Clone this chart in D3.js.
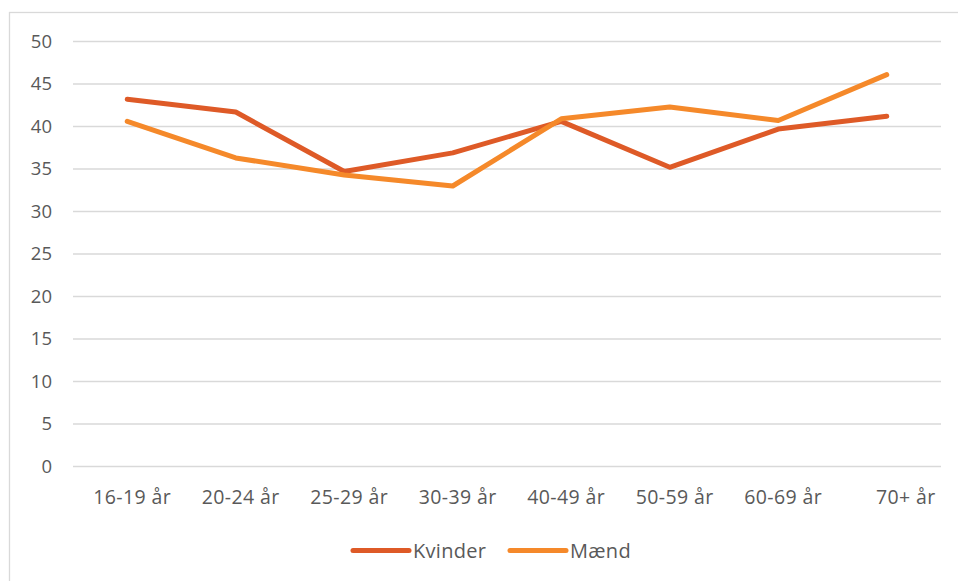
<!DOCTYPE html>
<meta charset="utf-8">
<style>
body { margin: 0; background: #fff; }
text { font-family: "Open Sans", "Noto Sans", sans-serif; fill: #595959; }
.grid line { stroke: #d9d9d9; stroke-width: 1.6px; }
.line { fill: none; stroke-width: 5px; stroke-linejoin: round; stroke-linecap: round; }
</style>
<svg width="958" height="581"></svg>
<script src="https://cdn.jsdelivr.net/npm/d3@7"></script>
<script>

// data
let categories = ["16-19 år", "20-24 år", "25-29 år", "30-39 år", "40-49 år", "50-59 år", "60-69 år", "70+ år"];
let kvinder = [43.2, 41.7, 34.7, 36.9, 40.6, 35.2, 39.7, 41.2];
let maend = [40.6, 36.3, 34.3, 33.0, 40.9, 42.3, 40.7, 46.1];
let seriesNames = ["Kvinder", "Mænd"];
let seriesColors = ["#de5a27", "#f5892a"];
let yTicks = [0, 5, 10, 15, 20, 25, 30, 35, 40, 45, 50];

let svg = d3.select("svg"),
    margin = {top: 41.5, right: 17, bottom: 114.5, left: 73},
    width = svg.attr("width") - margin.left - margin.right,
    height = svg.attr("height") - margin.top - margin.bottom,
    g = svg.append("g").attr("transform", "translate(" + margin.left + "," + margin.top + ")");

// chart frame (only top and left edges fall inside the window)
svg.append("rect")
    .attr("x", 9.5).attr("y", 12.5)
    .attr("width", 1000).attr("height", 1000)
    .attr("fill", "none")
    .attr("stroke", "#d9d9d9")
    .attr("stroke-width", 1.3);

let x = d3.scaleBand().domain(categories).range([0, width]),
    y = d3.scaleLinear().domain([0, 50]).range([height, 0]);

// gridlines
g.append("g").attr("class", "grid")
    .selectAll("line")
    .data(yTicks)
    .enter().append("line")
    .attr("x1", 0).attr("x2", width)
    .attr("y1", d => y(d)).attr("y2", d => y(d));

// y labels
g.append("g")
    .selectAll("text")
    .data(yTicks)
    .enter().append("text")
    .attr("x", -21)
    .attr("y", d => y(d))
    .attr("dy", "0.35em")
    .attr("text-anchor", "end")
    .style("font-size", "18.5px")
    .text(d => d);

// x labels
g.append("g")
    .selectAll("text")
    .data(categories)
    .enter().append("text")
    .attr("x", d => x(d) + x.bandwidth() / 2)
    .attr("dx", (d, i) => i === categories.length - 1 ? 19 : 5)
    .attr("y", height + 37)
    .attr("text-anchor", "middle")
    .style("font-size", "19.5px")
    .style("letter-spacing", "0.4px")
    .text(d => d);

let series = [kvinder, maend].map((vals, i) => ({
    name: seriesNames[i],
    color: seriesColors[i],
    values: vals.map((v, j) => ({cat: categories[j], value: v}))
}));

let line = d3.line()
    .x(d => x(d.cat) + x.bandwidth() / 2)
    .y(d => y(d.value));

// Mænd drawn after Kvinder (on top) like the reference
g.selectAll(".line")
    .data(series)
    .enter().append("path")
    .attr("class", "line")
    .attr("d", d => line(d.values))
    .style("stroke", d => d.color);

// legend
let legendX = [353, 510];
let legend = svg.selectAll(".legend")
    .data(series)
    .enter().append("g")
    .attr("class", "legend")
    .attr("transform", (d, i) => "translate(" + legendX[i] + ",550.5)");

legend.append("line")
    .attr("x1", 0).attr("x2", 56)
    .attr("stroke", d => d.color)
    .attr("stroke-width", 5)
    .attr("stroke-linecap", "round");

legend.append("text")
    .attr("x", 60)
    .attr("dy", "0.35em")
    .style("font-size", "20px")
    .style("letter-spacing", "0.3px")
    .text(d => d.name);

</script>
